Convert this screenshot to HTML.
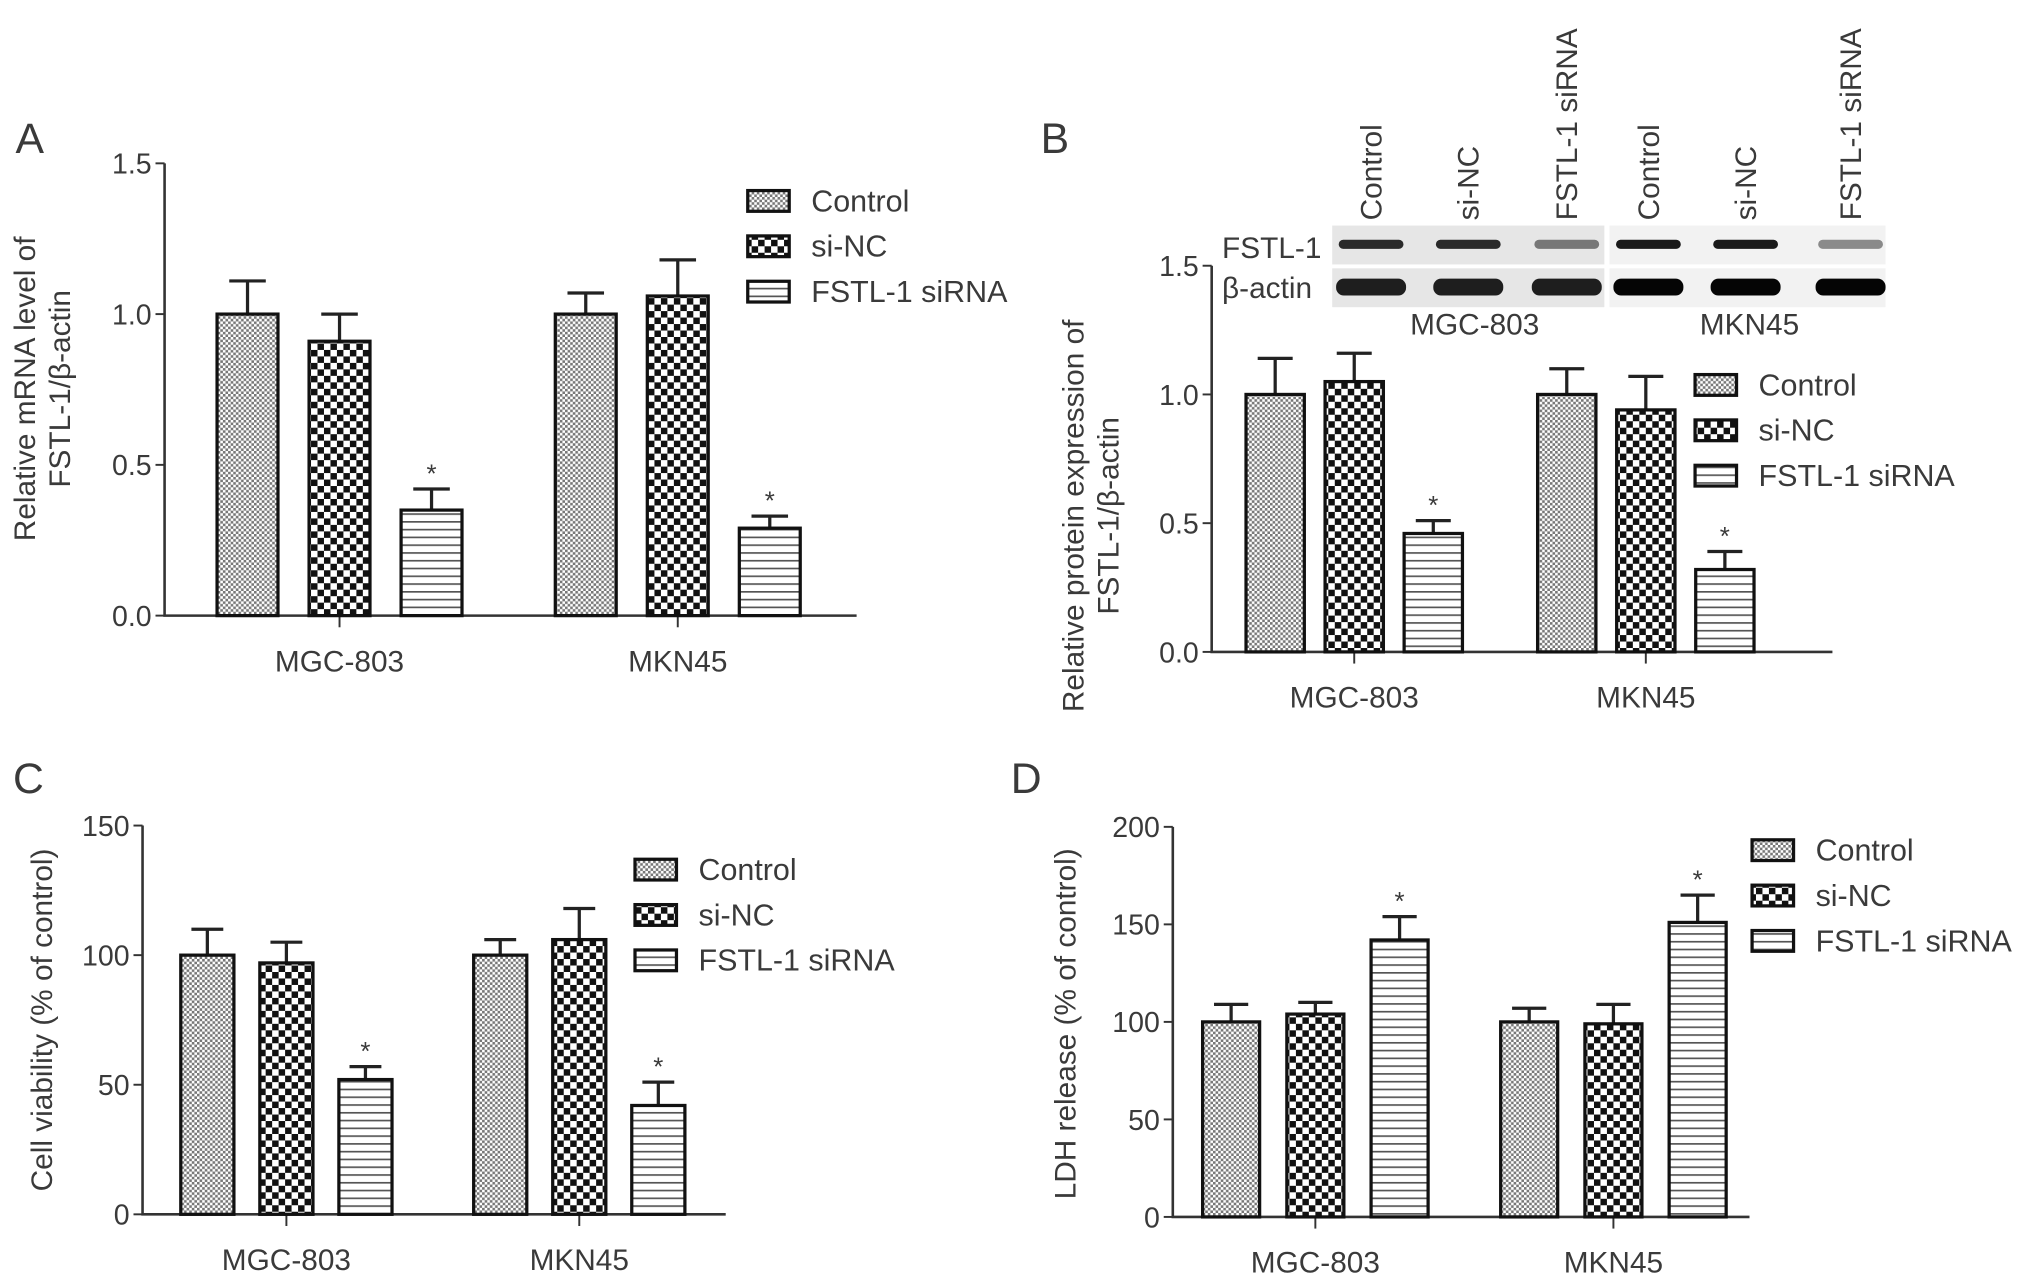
<!DOCTYPE html>
<html><head><meta charset="utf-8">
<style>
html,body{margin:0;padding:0;background:#fff;}
#wrap{width:2032px;height:1274px;overflow:hidden;position:relative;}
svg{position:absolute;left:0;top:0;}
text{font-family:"Liberation Sans",sans-serif;fill:#3a3a3a;}
</style></head>
<body>
<div id="wrap">
<svg id="fig" width="2032" height="1274" viewBox="0 0 1568 983">
<defs>
<pattern id="pFine" patternUnits="userSpaceOnUse" width="4" height="4"><rect width="4" height="4" fill="#fff"/><rect width="2" height="2" fill="#777"/><rect x="2" y="2" width="2" height="2" fill="#777"/></pattern>
<pattern id="pBold" patternUnits="userSpaceOnUse" width="10" height="10"><rect width="10" height="10" fill="#fff"/><rect width="5" height="5" fill="#111"/><rect x="5" y="5" width="5" height="5" fill="#111"/></pattern>
<pattern id="pLines" patternUnits="userSpaceOnUse" width="6" height="6"><rect width="6" height="6" fill="#fff"/><rect y="0" width="6" height="1.3" fill="#555"/></pattern>
</defs>
<g id="root"></g>
</svg>
</div>
<script>
// ---- data ----
var categories = ["MGC-803","MKN45"];
var seriesNames = ["Control","si-NC","FSTL-1 siRNA"];
// Panel A
var A_control = [1.0, 1.0];   var A_controlErr = [0.11, 0.07];
var A_siNC    = [0.91, 1.06]; var A_siNCErr    = [0.09, 0.12];
var A_siRNA   = [0.35, 0.29]; var A_siRNAErr   = [0.07, 0.04];
var A_ticks = [0.0, 0.5, 1.0, 1.5];
var A_tickLabels = ["0.0","0.5","1.0","1.5"];
// Panel B
var B_control = [1.0, 1.0];   var B_controlErr = [0.14, 0.10];
var B_siNC    = [1.05, 0.94]; var B_siNCErr    = [0.11, 0.13];
var B_siRNA   = [0.46, 0.32]; var B_siRNAErr   = [0.05, 0.07];
var B_ticks = [0.0, 0.5, 1.0, 1.5];
var B_tickLabels = ["0.0","0.5","1.0","1.5"];
// Panel C
var C_control = [100, 100]; var C_controlErr = [10, 6];
var C_siNC    = [97, 106];  var C_siNCErr    = [8, 12];
var C_siRNA   = [52, 42];   var C_siRNAErr   = [5, 9];
var C_ticks = [0, 50, 100, 150];
var C_tickLabels = ["0","50","100","150"];
// Panel D
var D_control = [100, 100]; var D_controlErr = [9, 7];
var D_siNC    = [104, 99];  var D_siNCErr    = [6, 10];
var D_siRNA   = [142, 151]; var D_siRNAErr   = [12, 14];
var D_ticks = [0, 50, 100, 150, 200];
var D_tickLabels = ["0","50","100","150","200"];

var NS = "http://www.w3.org/2000/svg";
var root = document.getElementById("root");
var fills = ["url(#pFine)","url(#pBold)","url(#pLines)"];
var snames = ["control","si-nc","fstl1-sirna"];

function el(tag, attrs, parent){
  var e = document.createElementNS(NS, tag);
  for (var k in attrs) e.setAttribute(k, attrs[k]);
  (parent||root).appendChild(e);
  return e;
}

function panel(p){
  var g = el("g", {});
  
  
  function y(v){ return p.y0 - (v - p.ticks[0]) / (p.ticks[p.ticks.length-1] - p.ticks[0]) * (p.y0 - p.y1); }
  function x(ci, si){ return p.c0 + ci * p.gap + (si - 1) * p.step; }
  var ax = el("path", {d:"M"+p.ax+" "+y(p.ticks[p.ticks.length-1])+" V"+p.y0+" H"+p.axEnd, stroke:"#333", "stroke-width":2, fill:"none"}, g);
  
  
  p.ticks.forEach(function(t, i){
    el("line", {x1:p.ax-7, x2:p.ax, y1:y(t), y2:y(t), stroke:"#333", "stroke-width":1.5}, g);
    var tl = el("text", {x:p.ax-10, y:y(t)+8, "text-anchor":"end", "font-size":22}, g);
    tl.textContent = p.tickLabels[i];
    
    
  });
  categories.forEach(function(c, ci){
    var cx = x(ci, 1);
    el("line", {x1:cx, x2:cx, y1:p.y0, y2:p.y0+9, stroke:"#333", "stroke-width":1.5}, g);
    var ct = el("text", {x:cx, y:p.y0+43, "text-anchor":"middle", "font-size":23}, g);
    ct.textContent = c;
    
    
  });
  p.series.forEach(function(s, si){
    s.vals.forEach(function(v, ci){
      var cx = x(ci, si), top = y(v), errTop = y(v + s.err[ci]);
      el("line", {x1:cx, x2:cx, y1:top, y2:errTop, stroke:"#222", "stroke-width":2.5}, g);
      el("line", {x1:cx-p.bw*0.3, x2:cx+p.bw*0.3, y1:errTop, y2:errTop, stroke:"#222", "stroke-width":2.5}, g);
      var b = el("rect", {x:cx-p.bw/2, y:top, width:p.bw, height:p.y0-top, fill:fills[si], stroke:"#111", "stroke-width":2.5}, g);
      
      
      if (si === 2){
        var st = el("text", {x:cx, y:errTop-5, "text-anchor":"middle", "font-size":20}, g);
        st.textContent = "*";
        
        
      }
    });
  });
  seriesNames.forEach(function(n, si){
    var ly = p.ly + si * p.lstep;
    var lg = el("g", {}, g);
    
    
    el("rect", {x:p.lx, y:ly-8, width:32, height:16, fill:fills[si], stroke:"#111", "stroke-width":2.5}, lg);
    var lt = el("text", {x:p.lx+49, y:ly+8, "font-size":23.5}, lg);
    lt.textContent = n;
  });
  var yt = el("text", {transform:"translate("+p.ytx+","+p.yty+") rotate(-90)", "text-anchor":"middle", "font-size":23}, g);
  
  
  p.ytitle.forEach(function(line, i){
    var ts = el("tspan", {x:0, dy: i===0 ? 0 : 27}, yt);
    ts.textContent = line;
  });
  var L = el("text", {x:p.Lx, y:p.Ly, "font-size":33}, g);
  L.textContent = p.id;
  
  
}

panel({id:"A", ax:127, axEnd:661, y0:475, y1:126, ticks:A_ticks, tickLabels:A_tickLabels,
  c0:262, gap:261, step:71, bw:47,
  series:[{vals:A_control,err:A_controlErr},{vals:A_siNC,err:A_siNCErr},{vals:A_siRNA,err:A_siRNAErr}],
  lx:577, ly:155, lstep:35, ytx:27, yty:300, ytitle:["Relative mRNA level of","FSTL-1/β-actin"], Lx:12, Ly:118});
panel({id:"B", ax:935, axEnd:1414, y0:503, y1:205, ticks:B_ticks, tickLabels:B_tickLabels,
  c0:1045, gap:225, step:61, bw:45,
  series:[{vals:B_control,err:B_controlErr},{vals:B_siNC,err:B_siNCErr},{vals:B_siRNA,err:B_siRNAErr}],
  lx:1308, ly:297, lstep:35, ytx:836, yty:398, ytitle:["Relative protein expression of","FSTL-1/β-actin"], Lx:803, Ly:118});
panel({id:"C", ax:110, axEnd:560, y0:937, y1:637, ticks:C_ticks, tickLabels:C_tickLabels,
  c0:221, gap:226, step:61, bw:41,
  series:[{vals:C_control,err:C_controlErr},{vals:C_siNC,err:C_siNCErr},{vals:C_siRNA,err:C_siRNAErr}],
  lx:490, ly:671, lstep:35, ytx:40, yty:787, ytitle:["Cell viability (% of control)"], Lx:10, Ly:612});
panel({id:"D", ax:905, axEnd:1350, y0:939, y1:638, ticks:D_ticks, tickLabels:D_tickLabels,
  c0:1015, gap:230, step:65, bw:44,
  series:[{vals:D_control,err:D_controlErr},{vals:D_siNC,err:D_siNCErr},{vals:D_siRNA,err:D_siRNAErr}],
  lx:1352, ly:656, lstep:35, ytx:830, yty:790, ytitle:["LDH release (% of control)"], Lx:780, Ly:612});

var blot = el("g", {});


el("rect", {x:1028, y:174, width:210, height:30, fill:"#e6e6e6"}, blot);
el("rect", {x:1028, y:207, width:210, height:30, fill:"#e6e6e6"}, blot);
el("rect", {x:1242, y:174, width:213, height:30, fill:"#f2f2f2"}, blot);
el("rect", {x:1242, y:207, width:213, height:30, fill:"#f2f2f2"}, blot);
var laneX = [1058, 1133, 1209, 1272, 1347, 1428];
var laneLabels = ["Control","si-NC","FSTL-1 siRNA","Control","si-NC","FSTL-1 siRNA"];
var fstlShade = ["#2a2a2a","#2a2a2a","#777","#1a1a1a","#1a1a1a","#8a8a8a"];
laneX.forEach(function(lx, i){
  el("rect", {x:lx-25, y:185, width:50, height:7, rx:3.5, fill:fstlShade[i]}, blot);
  el("rect", {x:lx-27, y:215, width:54, height:13, rx:6, fill: i<3 ? "#1e1e1e" : "#050505"}, blot);
  var t = el("text", {transform:"translate("+(lx+8)+",170) rotate(-90)", "font-size":23}, blot);
  t.textContent = laneLabels[i];
});
var t1 = el("text", {x:943, y:199, "font-size":23}, blot); t1.textContent = "FSTL-1";
var t2 = el("text", {x:943, y:230, "font-size":23}, blot); t2.textContent = "β-actin";
var t3 = el("text", {x:1138, y:258, "text-anchor":"middle", "font-size":23}, blot); t3.textContent = "MGC-803";
var t4 = el("text", {x:1350, y:258, "text-anchor":"middle", "font-size":23}, blot); t4.textContent = "MKN45";
</script>
</body></html>
